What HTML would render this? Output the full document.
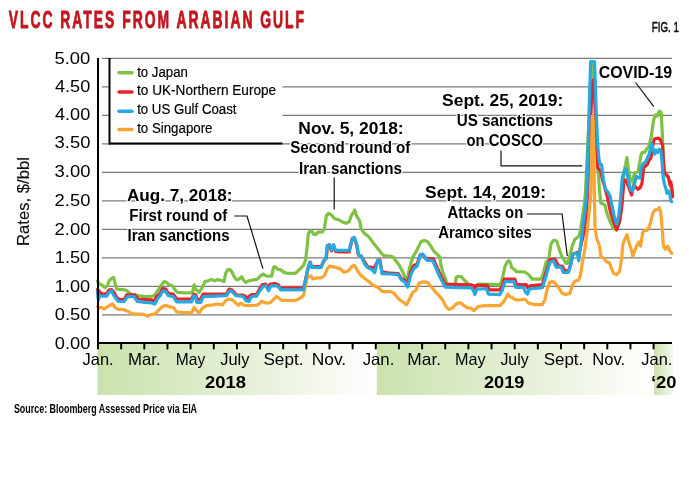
<!DOCTYPE html>
<html><head><meta charset="utf-8"><title>VLCC rates from Arabian Gulf</title>
<style>
html,body{margin:0;padding:0;background:#fff;}
body{width:689px;height:481px;overflow:hidden;}
svg{display:block;font-family:"Liberation Sans", sans-serif;will-change:transform;}
.halo{stroke:#fff;stroke-width:2.6px;stroke-linejoin:round;paint-order:stroke fill;}
</style></head><body>
<svg width="689" height="481" viewBox="0 0 689 481">
<defs>
<linearGradient id="yr" x1="0" x2="1" y1="0" y2="0">
<stop offset="0" stop-color="#cbe2ad"/><stop offset="0.55" stop-color="#e6f0d8"/><stop offset="1" stop-color="#ffffff"/>
</linearGradient>
<linearGradient id="yr20" x1="0" x2="1" y1="0" y2="0">
<stop offset="0" stop-color="#cbe2ad"/><stop offset="1" stop-color="#f4f8ee"/>
</linearGradient>
</defs>
<rect x="0" y="0" width="689" height="481" fill="#fff"/>

<rect x="97.5" y="344" width="279.3" height="51" fill="url(#yr)"/>
<rect x="376.8" y="344" width="277.2" height="51" fill="url(#yr)"/>
<rect x="654" y="344" width="19" height="51" fill="url(#yr20)"/>
<line x1="102" y1="314.81" x2="672" y2="314.81" stroke="#7a7a7a" stroke-width="1.2"/>
<line x1="102" y1="286.32" x2="672" y2="286.32" stroke="#7a7a7a" stroke-width="1.2"/>
<line x1="102" y1="257.83" x2="672" y2="257.83" stroke="#7a7a7a" stroke-width="1.2"/>
<line x1="102" y1="229.34" x2="672" y2="229.34" stroke="#7a7a7a" stroke-width="1.2"/>
<line x1="102" y1="200.85" x2="672" y2="200.85" stroke="#7a7a7a" stroke-width="1.2"/>
<line x1="102" y1="172.36" x2="672" y2="172.36" stroke="#7a7a7a" stroke-width="1.2"/>
<line x1="102" y1="143.87" x2="672" y2="143.87" stroke="#7a7a7a" stroke-width="1.2"/>
<line x1="102" y1="115.38" x2="672" y2="115.38" stroke="#7a7a7a" stroke-width="1.2"/>
<line x1="102" y1="86.89" x2="672" y2="86.89" stroke="#7a7a7a" stroke-width="1.2"/>
<line x1="102" y1="58.40" x2="672" y2="58.40" stroke="#7a7a7a" stroke-width="1.2"/>
<text transform="translate(29.3,201.5) rotate(-90)" x="0" y="0" font-size="17" fill="#111" stroke="#111" stroke-width="0.15" text-anchor="middle" textLength="89" lengthAdjust="spacingAndGlyphs">Rates, $/bbl</text>
<rect x="109.5" y="59" width="173" height="84.5" fill="#fff"/>
<polyline points="97.5,280.8 98.3,283.3 101.7,285.0 105.0,287.4 107.5,285.7 109.1,280.8 111.6,278.3 113.6,277.4 115.0,283.3 116.6,289.0 120.0,289.4 125.8,290.0 128.3,291.9 131.6,294.6 138.2,295.7 144.9,296.6 151.5,296.6 154.9,294.9 158.2,290.0 161.5,285.0 164.2,281.6 166.7,282.4 169.1,284.9 172.5,285.7 175.0,289.9 177.5,292.4 184.9,292.9 192.4,292.9 194.1,284.9 195.7,289.1 199.1,292.4 202.4,287.4 204.9,281.6 208.2,280.8 211.5,279.6 214.9,280.8 217.4,279.6 220.7,280.3 224.0,281.6 225.7,273.3 227.5,269.9 230.0,269.6 231.7,271.6 234.1,276.6 236.6,279.9 239.1,279.1 241.6,276.6 243.3,279.9 245.8,282.4 249.1,280.7 253.3,279.9 257.4,279.1 260.7,275.7 263.2,274.1 265.7,275.7 268.2,276.2 271.6,276.2 273.6,267.4 274.9,266.6 277.4,269.1 280.7,269.9 284.0,272.4 287.4,273.3 294.8,273.3 296.2,272.7 300.4,268.6 303.5,265.4 305.6,260.2 307.0,247.8 308.3,234.3 309.7,231.2 311.8,231.2 313.9,234.3 316.0,234.3 318.0,232.2 322.2,232.2 324.3,229.1 326.4,215.6 328.4,213.5 331.5,215.0 334.7,218.7 338.8,219.7 341.9,221.8 346.1,223.3 349.2,221.8 351.3,215.6 353.4,212.5 354.8,210.0 356.5,215.6 359.6,220.8 361.2,229.1 364.3,233.2 368.5,236.4 371.6,240.5 374.7,244.7 378.9,249.9 382.0,254.0 384.1,255.7 390.0,256.0 393.1,257.0 396.2,261.2 399.3,265.3 402.5,271.5 405.6,278.8 407.7,276.7 409.7,267.4 412.9,257.0 416.0,251.8 419.1,245.6 421.2,241.4 424.3,240.4 427.4,241.4 430.5,245.6 433.6,250.8 436.7,253.9 439.9,257.0 440.9,265.3 443.0,272.6 445.1,277.8 447.1,284.0 452.3,285.0 455.4,284.4 456.1,277.4 458.3,276.3 461.7,276.9 464.1,279.9 466.6,282.4 469.1,284.9 473.3,285.7 474.6,291.0 476.6,284.9 479.1,284.1 499.9,284.6 501.6,280.8 503.2,274.9 504.9,266.6 507.4,261.6 509.0,260.8 510.7,263.3 511.5,267.5 514.0,269.1 516.5,271.6 524.8,272.0 528.7,274.7 532.4,279.2 541.2,279.2 543.6,272.2 546.1,262.2 548.6,259.7 551.1,243.6 553.6,240.3 556.8,241.1 559.8,251.0 562.3,257.3 563.3,258.3 565.8,263.3 567.5,263.3 570.0,255.0 572.5,245.0 575.0,239.2 577.5,237.5 579.2,235.8 580.8,228.3 582.5,216.7 584.2,205.0 585.3,195.0 587.0,160.0 588.5,130.0 590.0,95.0 591.3,62.0 593.3,62.0 595.5,110.0 597.0,150.0 598.0,170.0 599.5,190.0 600.8,203.0 605.0,205.0 607.0,214.0 610.0,221.0 613.5,228.5 616.0,229.5 619.0,224.0 621.3,210.0 622.5,185.0 624.0,172.0 625.5,165.0 626.9,157.5 628.5,170.0 630.5,180.0 632.5,182.0 634.4,173.0 638.0,172.0 640.0,161.0 641.3,154.0 642.4,152.3 644.9,152.3 646.9,148.5 648.6,147.3 651.1,137.3 653.6,119.9 655.3,114.9 657.3,116.2 659.3,111.2 661.1,112.4 662.0,127.0 662.8,145.0 663.5,160.0 664.5,172.0 666.5,176.0 668.5,178.0 670.3,184.0 672.3,192.0" fill="none" stroke="#7dc242" stroke-width="3.2" stroke-linejoin="round" stroke-linecap="round"/>
<polyline points="97.5,289.3 101.7,294.0 106.6,293.6 109.1,290.0 111.6,289.6 114.1,292.4 116.6,297.4 120.0,299.5 124.1,299.5 126.6,294.9 134.9,294.9 138.2,299.0 144.9,299.5 151.5,299.9 154.0,301.5 156.5,296.6 159.9,294.0 162.5,288.7 165.8,289.1 168.3,293.6 173.3,294.1 176.6,299.0 191.6,299.0 194.1,294.1 195.7,294.9 197.4,299.5 200.7,299.0 203.2,294.1 226.5,294.1 229.0,289.1 231.7,289.9 234.1,291.9 236.6,294.9 243.3,295.2 245.8,296.5 247.4,299.5 249.9,295.7 252.4,294.5 256.6,294.5 259.9,288.2 262.4,284.6 265.7,284.1 268.2,287.4 270.2,284.1 274.9,283.6 278.2,284.6 279.9,288.2 294.8,288.2 303.5,288.3 305.6,279.0 307.7,269.6 309.7,262.3 311.8,266.5 321.2,266.5 324.3,260.2 326.4,258.2 327.4,245.7 329.5,244.7 331.5,250.9 333.6,245.7 335.7,251.5 339.9,251.9 349.2,251.9 352.3,238.4 354.4,238.4 356.5,244.7 358.5,255.1 361.2,256.1 364.3,261.3 367.5,266.5 371.6,267.5 374.7,267.5 377.9,260.2 379.9,260.2 382.0,271.7 390.0,273.2 398.3,273.6 401.4,278.8 404.5,279.9 407.7,283.0 410.8,271.5 413.9,265.3 417.0,264.3 420.1,254.9 423.2,254.9 425.3,258.0 433.6,259.1 435.7,264.3 438.8,271.5 441.9,277.8 445.1,284.0 460.0,284.6 471.6,284.9 474.1,285.7 475.3,289.1 476.6,285.3 487.4,285.3 489.1,289.9 499.9,289.9 502.4,285.7 504.1,279.1 514.9,279.1 516.5,284.9 526.2,284.6 528.0,288.4 530.0,285.9 542.4,284.6 546.1,272.2 549.9,259.7 554.9,259.2 558.6,266.0 562.3,266.0 564.8,270.9 568.5,270.9 571.0,263.0 573.0,254.0 577.5,252.5 579.5,252.0 581.5,243.0 584.0,232.0 586.0,218.0 587.5,195.0 589.5,150.0 591.5,100.0 592.8,80.0 594.0,80.0 595.5,120.0 597.0,155.0 597.8,168.0 600.5,170.5 602.5,180.0 604.2,185.0 607.3,196.5 610.4,212.1 613.5,221.5 616.6,230.0 619.8,220.4 621.9,205.8 624.0,180.0 626.0,180.0 628.8,187.5 631.6,195.0 633.5,185.6 636.3,187.5 638.1,189.3 640.0,188.0 641.9,183.7 643.8,167.0 645.6,166.0 647.5,164.2 649.2,160.0 650.8,158.3 652.5,146.7 654.2,139.2 656.7,138.3 659.2,138.3 660.8,140.8 662.5,145.0 663.3,158.3 664.2,171.7 666.7,175.0 668.3,176.7 670.0,185.0 670.8,181.7 672.3,191.7 672.6,197.0" fill="none" stroke="#e8242b" stroke-width="3.2" stroke-linejoin="round" stroke-linecap="round"/>
<polyline points="97.5,306.5 99.2,307.9 101.7,307.4 104.1,309.0 106.6,307.4 109.1,305.7 112.5,304.0 115.0,307.4 118.3,309.5 123.3,309.5 128.3,311.5 131.6,313.5 136.6,314.0 141.6,314.0 144.9,314.8 147.4,316.2 149.9,314.8 154.9,314.0 158.2,310.7 161.5,307.4 164.0,305.7 166.7,305.7 170.0,306.9 173.3,307.4 176.6,311.9 181.6,312.4 191.6,312.9 194.1,307.4 195.7,309.9 199.1,312.9 202.4,308.2 206.6,305.7 213.2,304.9 216.5,304.0 222.4,304.9 225.7,300.7 228.2,299.0 232.5,299.9 235.8,302.9 238.3,305.3 240.8,303.2 244.1,305.3 249.9,305.7 256.6,305.2 259.1,304.0 261.6,301.2 264.1,302.4 267.4,303.2 270.7,302.4 274.0,299.0 276.5,296.5 279.0,298.2 281.5,300.2 294.8,300.7 298.3,299.3 303.5,295.6 305.6,285.2 307.7,276.9 310.8,275.8 312.9,279.0 317.0,277.9 321.2,277.9 324.3,275.8 327.4,268.6 329.5,266.1 333.6,266.9 339.9,268.6 344.0,272.3 348.2,271.0 352.3,266.1 354.4,265.4 357.5,270.6 359.6,273.7 361.2,275.8 365.4,279.0 369.5,282.1 372.7,285.2 377.9,287.3 382.0,291.4 391.4,291.8 394.2,293.4 398.3,298.5 402.5,301.7 406.6,304.8 409.7,298.5 412.9,292.3 416.0,290.2 419.1,283.0 423.2,281.9 427.4,282.3 431.5,287.1 435.7,292.3 439.9,296.5 443.0,300.6 446.1,306.9 449.2,309.4 452.3,307.9 455.4,304.8 457.5,303.2 460.8,302.9 464.1,305.7 467.5,307.9 470.8,308.2 474.1,310.7 478.3,306.5 484.9,305.7 499.9,305.7 503.2,302.4 505.7,298.2 507.9,294.1 509.9,296.6 513.2,298.2 515.7,299.9 520.7,299.9 524.8,299.0 528.7,303.3 534.9,304.6 542.4,304.6 544.9,299.6 547.4,288.4 549.9,282.2 553.6,281.7 557.3,285.9 562.3,293.4 566.1,294.6 569.8,293.4 572.5,285.0 575.0,281.2 578.7,280.0 580.5,275.0 582.5,262.0 585.0,248.3 587.5,228.3 589.2,211.7 590.8,195.0 591.6,150.0 592.3,116.0 592.9,116.0 593.9,150.0 594.4,195.0 594.7,211.7 595.0,228.3 596.7,238.3 599.2,245.0 600.3,252.0 601.0,256.5 604.2,258.6 606.2,261.7 609.4,262.8 611.4,268.0 613.5,273.2 616.6,274.8 619.8,271.1 621.8,256.5 622.9,244.1 625.0,238.9 627.0,234.7 629.1,243.0 631.2,249.3 632.8,256.1 634.9,250.3 637.0,245.1 639.1,242.0 640.5,246.1 641.6,239.9 642.6,232.6 644.7,230.5 646.8,230.5 648.9,227.4 650.9,221.2 653.0,212.9 655.1,209.8 657.2,209.8 659.3,207.7 660.7,211.8 662.4,231.6 663.4,246.1 665.5,249.3 667.6,246.1 669.6,250.3 671.7,253.4" fill="none" stroke="#f8a532" stroke-width="3.2" stroke-linejoin="round" stroke-linecap="round"/>
<polyline points="97.5,291.6 98.3,299.9 99.7,295.7 101.7,296.2 106.6,296.2 109.1,292.4 111.6,290.7 113.3,294.9 115.8,298.2 118.3,301.5 124.1,301.5 127.4,296.6 134.1,296.6 137.4,301.5 144.9,302.4 151.5,302.9 154.9,304.0 157.4,299.0 160.7,294.9 162.5,291.2 165.8,291.6 168.3,295.7 173.3,296.6 176.6,301.9 191.6,301.9 194.1,295.7 195.7,297.4 196.9,302.4 200.7,302.4 203.2,296.6 226.5,295.7 229.0,291.6 230.8,290.7 233.3,292.9 235.8,295.7 243.3,296.5 245.8,300.7 249.1,301.5 250.8,297.4 253.3,296.2 256.6,296.2 259.9,290.7 263.2,286.2 265.7,285.7 268.6,290.7 270.7,286.2 276.5,285.7 279.0,287.4 280.7,289.9 294.8,289.9 303.5,289.7 305.6,280.0 307.7,269.6 310.4,261.9 311.8,267.5 321.2,267.5 323.2,261.3 325.7,259.2 327.4,245.7 329.5,244.7 331.5,249.9 333.6,244.7 335.7,250.3 349.2,250.3 352.3,238.4 354.4,237.4 356.9,244.7 358.5,255.1 361.2,256.1 364.3,263.4 367.5,267.5 371.6,269.6 374.7,272.7 377.9,260.2 379.9,261.3 382.0,273.7 390.0,274.0 398.3,274.7 401.4,279.9 404.5,281.9 407.7,287.1 410.8,274.7 413.9,268.4 417.0,266.4 420.1,256.0 422.2,253.9 424.3,256.0 426.4,260.1 432.6,260.7 435.7,267.4 438.8,274.7 441.9,280.9 445.1,287.1 460.0,287.7 471.6,287.9 473.3,290.7 475.0,294.6 476.9,289.1 486.6,288.6 488.3,294.1 499.9,294.6 502.4,289.9 504.9,281.6 514.0,281.6 515.7,287.4 523.5,287.4 525.5,292.0 527.5,294.0 529.5,289.0 542.4,287.6 546.1,275.9 549.9,262.2 553.6,261.0 556.1,267.2 561.1,267.2 563.3,272.5 568.3,272.5 570.8,265.0 572.5,255.0 575.0,253.3 577.5,254.2 578.7,260.8 580.0,250.0 581.7,236.7 583.3,221.7 585.0,210.0 586.7,195.0 587.8,160.0 588.6,130.0 589.4,100.0 590.2,75.0 590.7,61.5 594.5,61.5 595.2,80.0 596.2,111.0 597.4,140.0 598.8,158.0 599.8,163.5 601.6,165.0 603.5,180.0 605.4,189.0 608.0,192.0 610.0,196.0 612.5,208.0 614.6,218.0 616.6,224.0 618.7,216.0 620.5,200.0 622.2,178.0 624.0,172.0 626.0,168.7 627.8,178.0 630.6,189.3 632.5,191.2 634.4,184.6 636.3,176.2 638.1,178.0 640.0,178.0 641.3,167.0 643.3,163.5 645.8,161.7 647.5,157.5 649.2,154.2 650.8,146.7 651.7,143.3 653.0,149.2 654.7,154.2 655.8,150.0 657.5,152.5 659.2,149.2 660.8,151.7 661.7,158.3 662.5,168.3 663.3,178.3 664.7,185.0 665.8,188.3 667.0,193.3 668.3,190.8 670.0,195.0 670.8,200.8 671.7,201.7" fill="none" stroke="#27a8e0" stroke-width="3.2" stroke-linejoin="round" stroke-linecap="round"/>
<line x1="109.5" y1="58" x2="109.5" y2="144.5" stroke="#000" stroke-width="2"/>
<line x1="109" y1="143.5" x2="282.5" y2="143.5" stroke="#000" stroke-width="2"/>
<line x1="119" y1="72.8" x2="132" y2="72.8" stroke="#7dc242" stroke-width="3.5" stroke-linecap="round"/>
<line x1="119" y1="91.9" x2="132" y2="91.9" stroke="#e8242b" stroke-width="3.5" stroke-linecap="round"/>
<line x1="119" y1="111.2" x2="132" y2="111.2" stroke="#27a8e0" stroke-width="3.5" stroke-linecap="round"/>
<line x1="119" y1="129.6" x2="132" y2="129.6" stroke="#f8a532" stroke-width="3.5" stroke-linecap="round"/>
<line x1="98" y1="58" x2="98" y2="349" stroke="#000" stroke-width="2"/>
<line x1="97" y1="343" x2="672" y2="343" stroke="#000" stroke-width="2"/>
<line x1="98.00" y1="343" x2="98.00" y2="348.4" stroke="#000" stroke-width="2" stroke-linecap="round"/>
<line x1="121.15" y1="343" x2="121.15" y2="348.4" stroke="#000" stroke-width="2" stroke-linecap="round"/>
<line x1="144.30" y1="343" x2="144.30" y2="348.4" stroke="#000" stroke-width="2" stroke-linecap="round"/>
<line x1="167.45" y1="343" x2="167.45" y2="348.4" stroke="#000" stroke-width="2" stroke-linecap="round"/>
<line x1="190.60" y1="343" x2="190.60" y2="348.4" stroke="#000" stroke-width="2" stroke-linecap="round"/>
<line x1="213.75" y1="343" x2="213.75" y2="348.4" stroke="#000" stroke-width="2" stroke-linecap="round"/>
<line x1="236.90" y1="343" x2="236.90" y2="348.4" stroke="#000" stroke-width="2" stroke-linecap="round"/>
<line x1="260.05" y1="343" x2="260.05" y2="348.4" stroke="#000" stroke-width="2" stroke-linecap="round"/>
<line x1="283.20" y1="343" x2="283.20" y2="348.4" stroke="#000" stroke-width="2" stroke-linecap="round"/>
<line x1="306.35" y1="343" x2="306.35" y2="348.4" stroke="#000" stroke-width="2" stroke-linecap="round"/>
<line x1="329.50" y1="343" x2="329.50" y2="348.4" stroke="#000" stroke-width="2" stroke-linecap="round"/>
<line x1="352.65" y1="343" x2="352.65" y2="348.4" stroke="#000" stroke-width="2" stroke-linecap="round"/>
<line x1="375.80" y1="343" x2="375.80" y2="348.4" stroke="#000" stroke-width="2" stroke-linecap="round"/>
<line x1="398.95" y1="343" x2="398.95" y2="348.4" stroke="#000" stroke-width="2" stroke-linecap="round"/>
<line x1="422.10" y1="343" x2="422.10" y2="348.4" stroke="#000" stroke-width="2" stroke-linecap="round"/>
<line x1="445.25" y1="343" x2="445.25" y2="348.4" stroke="#000" stroke-width="2" stroke-linecap="round"/>
<line x1="468.40" y1="343" x2="468.40" y2="348.4" stroke="#000" stroke-width="2" stroke-linecap="round"/>
<line x1="491.55" y1="343" x2="491.55" y2="348.4" stroke="#000" stroke-width="2" stroke-linecap="round"/>
<line x1="514.70" y1="343" x2="514.70" y2="348.4" stroke="#000" stroke-width="2" stroke-linecap="round"/>
<line x1="537.85" y1="343" x2="537.85" y2="348.4" stroke="#000" stroke-width="2" stroke-linecap="round"/>
<line x1="561.00" y1="343" x2="561.00" y2="348.4" stroke="#000" stroke-width="2" stroke-linecap="round"/>
<line x1="584.15" y1="343" x2="584.15" y2="348.4" stroke="#000" stroke-width="2" stroke-linecap="round"/>
<line x1="607.30" y1="343" x2="607.30" y2="348.4" stroke="#000" stroke-width="2" stroke-linecap="round"/>
<line x1="630.45" y1="343" x2="630.45" y2="348.4" stroke="#000" stroke-width="2" stroke-linecap="round"/>
<line x1="653.60" y1="343" x2="653.60" y2="348.4" stroke="#000" stroke-width="2" stroke-linecap="round"/>
<polyline points="234.2,216 247,216 262.9,268.6" stroke="#111" stroke-width="1.2" fill="none"/>
<polyline points="334.2,177.5 334.2,209.5" stroke="#111" stroke-width="1.2" fill="none"/>
<polyline points="501,150.4 501,165.9 582.2,165.9" stroke="#111" stroke-width="1.2" fill="none"/>
<polyline points="526.8,214 562.1,214 567.3,256" stroke="#111" stroke-width="1.2" fill="none"/>
<polyline points="635.6,82.5 653.8,106.6" stroke="#111" stroke-width="1.2" fill="none"/>
<text transform="translate(8.70,28.09) scale(0.56,1)" x="0" y="0" font-size="24.8" font-weight="bold" fill="#c1161e" stroke="#c1161e" stroke-width="0.9" stroke-linejoin="round" textLength="527.42" lengthAdjust="spacing">VLCC RATES FROM ARABIAN GULF</text>
<text x="651.84" y="32.43" font-size="15.5" fill="#111" stroke="#111" stroke-width="0.6" stroke-linejoin="round" textLength="27.17" lengthAdjust="spacingAndGlyphs">FIG. 1</text>
<text x="54.75" y="348.57" font-size="15.6" fill="#000" textLength="35.62" lengthAdjust="spacingAndGlyphs">0.00</text>
<text x="54.75" y="320.38" font-size="15.6" fill="#000" textLength="35.62" lengthAdjust="spacingAndGlyphs">0.50</text>
<text x="54.83" y="292.38" font-size="15.6" fill="#000" textLength="35.36" lengthAdjust="spacingAndGlyphs">1.00</text>
<text x="54.83" y="262.86" font-size="15.6" fill="#000" textLength="35.36" lengthAdjust="spacingAndGlyphs">1.50</text>
<text x="54.59" y="234.78" font-size="15.6" fill="#000" textLength="35.80" lengthAdjust="spacingAndGlyphs">2.00</text>
<text x="54.59" y="206.34" font-size="15.6" fill="#000" textLength="35.80" lengthAdjust="spacingAndGlyphs">2.50</text>
<text x="54.62" y="177.39" font-size="15.6" fill="#000" textLength="35.79" lengthAdjust="spacingAndGlyphs">3.00</text>
<text x="54.62" y="147.82" font-size="15.6" fill="#000" textLength="35.79" lengthAdjust="spacingAndGlyphs">3.50</text>
<text x="55.02" y="120.20" font-size="15.6" fill="#000" textLength="35.18" lengthAdjust="spacingAndGlyphs">4.00</text>
<text x="55.02" y="92.30" font-size="15.6" fill="#000" textLength="35.18" lengthAdjust="spacingAndGlyphs">4.50</text>
<text x="54.41" y="64.04" font-size="15.6" fill="#000" textLength="35.93" lengthAdjust="spacingAndGlyphs">5.00</text>
<text x="137.16" y="77.49" font-size="15.5" fill="#000" stroke="#000" stroke-width="0.2" stroke-linejoin="round" textLength="50.75" lengthAdjust="spacingAndGlyphs">to Japan</text>
<text x="137.01" y="95.17" font-size="15.5" fill="#000" stroke="#000" stroke-width="0.2" stroke-linejoin="round" textLength="139.16" lengthAdjust="spacingAndGlyphs">to UK-Northern Europe</text>
<text x="137.16" y="113.75" font-size="15.5" fill="#000" stroke="#000" stroke-width="0.2" stroke-linejoin="round" textLength="99.29" lengthAdjust="spacingAndGlyphs">to US Gulf Coast</text>
<text x="137.16" y="133.09" font-size="15.5" fill="#000" stroke="#000" stroke-width="0.2" stroke-linejoin="round" textLength="75.31" lengthAdjust="spacingAndGlyphs">to Singapore</text>
<text x="82.50" y="365.26" font-size="16.5" fill="#000" textLength="31.16" lengthAdjust="spacingAndGlyphs">Jan.</text>
<text x="128.03" y="365.26" font-size="16.5" fill="#000" textLength="32.63" lengthAdjust="spacingAndGlyphs">Mar.</text>
<text x="175.79" y="365.26" font-size="16.5" fill="#000" textLength="29.39" lengthAdjust="spacingAndGlyphs">May</text>
<text x="220.27" y="365.26" font-size="16.5" fill="#000" textLength="29.18" lengthAdjust="spacingAndGlyphs">July</text>
<text x="263.43" y="364.65" font-size="16.5" fill="#000" textLength="40.08" lengthAdjust="spacingAndGlyphs">Sept.</text>
<text x="311.73" y="365.26" font-size="16.5" fill="#000" textLength="34.49" lengthAdjust="spacingAndGlyphs">Nov.</text>
<text x="362.66" y="365.26" font-size="16.5" fill="#000" textLength="31.67" lengthAdjust="spacingAndGlyphs">Jan.</text>
<text x="407.38" y="365.26" font-size="16.5" fill="#000" textLength="33.75" lengthAdjust="spacingAndGlyphs">Mar.</text>
<text x="455.02" y="365.26" font-size="16.5" fill="#000" textLength="30.59" lengthAdjust="spacingAndGlyphs">May</text>
<text x="500.38" y="365.26" font-size="16.5" fill="#000" textLength="28.32" lengthAdjust="spacingAndGlyphs">July</text>
<text x="543.65" y="364.86" font-size="16.5" fill="#000" textLength="39.67" lengthAdjust="spacingAndGlyphs">Sept.</text>
<text x="592.20" y="365.26" font-size="16.5" fill="#000" textLength="32.86" lengthAdjust="spacingAndGlyphs">Nov.</text>
<text x="641.37" y="365.26" font-size="16.5" fill="#000" textLength="30.96" lengthAdjust="spacingAndGlyphs">Jan.</text>
<text x="204.96" y="388.23" font-size="16.6" font-weight="bold" fill="#000" textLength="41.00" lengthAdjust="spacingAndGlyphs">2018</text>
<text x="483.98" y="388.23" font-size="16.6" font-weight="bold" fill="#000" textLength="40.50" lengthAdjust="spacingAndGlyphs">2019</text>
<text x="650.90" y="388.08" font-size="16.6" font-weight="bold" fill="#000" textLength="25.52" lengthAdjust="spacingAndGlyphs">‘20</text>
<text x="13.90" y="412.79" font-size="12.2" font-weight="bold" fill="#000" textLength="183.17" lengthAdjust="spacingAndGlyphs">Source: Bloomberg Assessed Price via EIA</text>
<text class="halo" x="126.92" y="201.21" font-size="16" font-weight="bold" fill="#000" textLength="105.67" lengthAdjust="spacingAndGlyphs">Aug. 7, 2018:</text>
<text class="halo" x="129.28" y="221.21" font-size="16" font-weight="bold" fill="#000" textLength="97.96" lengthAdjust="spacingAndGlyphs">First round of</text>
<text class="halo" x="127.51" y="241.21" font-size="16" font-weight="bold" fill="#000" textLength="102.02" lengthAdjust="spacingAndGlyphs">Iran sanctions</text>
<text class="halo" x="298.34" y="133.61" font-size="16" font-weight="bold" fill="#000" textLength="105.33" lengthAdjust="spacingAndGlyphs">Nov. 5, 2018:</text>
<text class="halo" x="290.18" y="153.41" font-size="16" font-weight="bold" fill="#000" textLength="120.24" lengthAdjust="spacingAndGlyphs">Second round of</text>
<text class="halo" x="298.97" y="174.31" font-size="16" font-weight="bold" fill="#000" textLength="102.89" lengthAdjust="spacingAndGlyphs">Iran sanctions</text>
<text class="halo" x="442.06" y="106.41" font-size="16" font-weight="bold" fill="#000" textLength="121.17" lengthAdjust="spacingAndGlyphs">Sept. 25, 2019:</text>
<text class="halo" x="456.73" y="125.81" font-size="16" font-weight="bold" fill="#000" textLength="96.20" lengthAdjust="spacingAndGlyphs">US sanctions</text>
<text class="halo" x="466.49" y="145.83" font-size="16" font-weight="bold" fill="#000" textLength="76.47" lengthAdjust="spacingAndGlyphs">on COSCO</text>
<text class="halo" x="425.11" y="198.01" font-size="16" font-weight="bold" fill="#000" textLength="120.82" lengthAdjust="spacingAndGlyphs">Sept. 14, 2019:</text>
<text class="halo" x="447.43" y="217.81" font-size="16" font-weight="bold" fill="#000" textLength="75.79" lengthAdjust="spacingAndGlyphs">Attacks on</text>
<text class="halo" x="438.19" y="237.81" font-size="16" font-weight="bold" fill="#000" textLength="93.61" lengthAdjust="spacingAndGlyphs">Aramco sites</text>
<text class="halo" x="598.65" y="78.01" font-size="16" font-weight="bold" fill="#000" textLength="73.52" lengthAdjust="spacingAndGlyphs">COVID-19</text>
</svg>
</body></html>
